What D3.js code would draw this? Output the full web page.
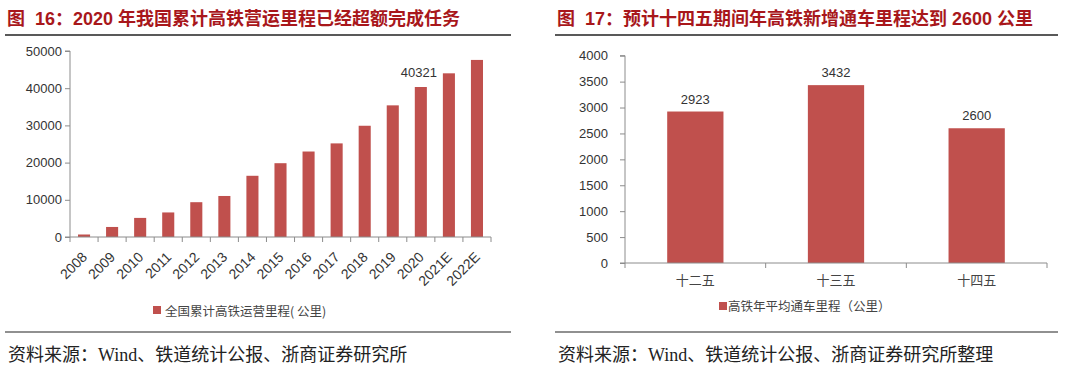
<!DOCTYPE html>
<html><head><meta charset="utf-8">
<script src="https://cdn.jsdelivr.net/npm/d3@7"></script>
<style>
body{margin:0;background:#fff;}
svg{display:block;}
</style></head><body>
<svg id="c" width="1080" height="367"></svg>
<script>
const years = ["2008","2009","2010","2011","2012","2013","2014","2015","2016","2017","2018","2019","2020","2021E","2022E"];
const mileage = [672,2699,5133,6601,9356,11028,16456,19838,22980,25164,29904,35388,40321,44000,47600];
const leftTicks = [0,10000,20000,30000,40000,50000];
const labeledYear = "2020";

const plans = ["十二五","十三五","十四五"];
const annualNew = [2923,3432,2600];
const rightTicks = [0,500,1000,1500,2000,2500,3000,3500,4000];

const titleLeft = ["图", "16：2020 年我国累计高铁营运里程已经超额完成任务"];
const titleRight = ["图", "17：预计十四五期间年高铁新增通车里程达到 2600 公里"];
const legendLeft = "全国累计高铁运营里程( 公里)";
const legendRight = "高铁年平均通车里程（公里）";
const sourceLeft = "资料来源：Wind、铁道统计公报、浙商证券研究所";
const sourceRight = "资料来源：Wind、铁道统计公报、浙商证券研究所整理";

const RED = "#c0504d", TITLE = "#a8171b", AX = "#8c8c8c", TXT = "#333";
const SANS = "Arial, 'Liberation Sans', 'Noto Sans CJK SC', sans-serif";
const CJK = "'Noto Sans CJK SC', sans-serif";
const SERIF = "'Liberation Serif', 'Noto Sans CJK SC', serif";

const svg = d3.select("#c");

function header(x0, x1, title){
  const t = svg.append("text").attr("x", x0+2).attr("y", 25).attr("fill", TITLE)
    .attr("font-family", SANS).attr("font-weight", "bold").attr("font-size", 18);
  t.append("tspan").text(title[0]);
  t.append("tspan").attr("dx", 10).text(title[1]);
  svg.append("line").attr("x1", x0).attr("x2", x1).attr("y1", 35).attr("y2", 35)
    .attr("stroke", "#222").attr("stroke-width", 1.5);
}
function footer(x0, x1, src){
  svg.append("line").attr("x1", x0).attr("x2", x1).attr("y1", 332).attr("y2", 332)
    .attr("stroke", "#222").attr("stroke-width", 1.2);
  svg.append("text").attr("x", x0+3).attr("y", 361).attr("fill", "#222")
    .attr("font-family", SERIF).attr("font-size", 18).text(src);
}

// ---------- Left chart ----------
header(5, 511, titleLeft);
footer(5, 511, sourceLeft);
{
  const x = d3.scaleBand().domain(years).range([70, 491]).paddingInner(0.57).paddingOuter(0.285);
  const y = d3.scaleLinear().domain([0, 50000]).range([237, 51]);
  const g = svg.append("g");
  g.selectAll("rect").data(years).join("rect")
    .attr("x", d => x(d)).attr("width", x.bandwidth())
    .attr("y", (d,i) => y(mileage[i])).attr("height", (d,i) => y(0) - y(mileage[i]))
    .attr("fill", RED);
  const ya = g.append("g").attr("transform", "translate(70,0)")
    .call(d3.axisLeft(y).tickValues(leftTicks).tickSize(5).tickPadding(3).tickFormat(d3.format("d")));
  ya.select(".domain").attr("stroke", AX).attr("d", "M-5,237H0V51H-5");
  ya.selectAll(".tick line").attr("stroke", AX);
  ya.selectAll("text").attr("fill", TXT).attr("font-family", SANS).attr("font-size", 13);
  const bounds = d3.range(years.length + 1).map(i => 70 + i * (421 / years.length));
  g.append("line").attr("x1", 70).attr("x2", 491).attr("y1", 237).attr("y2", 237).attr("stroke", AX);
  g.selectAll(".xt").data(bounds).join("line").attr("class", "xt")
    .attr("x1", d => d).attr("x2", d => d).attr("y1", 237).attr("y2", 242).attr("stroke", AX);
  g.selectAll(".xl").data(years).join("text").attr("class", "xl")
    .attr("transform", d => `translate(${x(d) + x.bandwidth()/2 + 4},${258}) rotate(-45)`)
    .attr("text-anchor", "end")
    .attr("fill", TXT).attr("font-family", SANS).attr("font-size", 14).text(d => d);
  const li = years.indexOf(labeledYear);
  g.append("text").attr("x", x(labeledYear) + x.bandwidth()/2 - 2).attr("y", y(mileage[li]) - 10)
    .attr("text-anchor", "middle").attr("fill", TXT).attr("font-family", SANS).attr("font-size", 13)
    .text(mileage[li]);
  g.append("rect").attr("x", 153).attr("y", 306).attr("width", 8).attr("height", 8).attr("fill", RED);
  g.append("text").attr("x", 165).attr("y", 315.5).attr("fill", "#444")
    .attr("font-family", CJK).attr("font-size", 12.5).text(legendLeft);
}

// ---------- Right chart ----------
header(555, 1058, titleRight);
footer(555, 1058, sourceRight);
{
  const x = d3.scaleBand().domain(plans).range([625, 1047]).paddingInner(0.6).paddingOuter(0.3);
  const y = d3.scaleLinear().domain([0, 4000]).range([263, 55.7]);
  const g = svg.append("g");
  g.selectAll("rect").data(plans).join("rect")
    .attr("x", d => x(d)).attr("width", x.bandwidth())
    .attr("y", (d,i) => y(annualNew[i])).attr("height", (d,i) => y(0) - y(annualNew[i]))
    .attr("fill", RED);
  g.selectAll(".vl").data(plans).join("text").attr("class", "vl")
    .attr("x", d => x(d) + x.bandwidth()/2).attr("y", (d,i) => y(annualNew[i]) - 8)
    .attr("text-anchor", "middle").attr("fill", TXT).attr("font-family", SANS).attr("font-size", 13)
    .text((d,i) => annualNew[i]);
  const ya = g.append("g").attr("transform", "translate(625,0)")
    .call(d3.axisLeft(y).tickValues(rightTicks).tickSize(5).tickPadding(12).tickFormat(d3.format("d")));
  ya.select(".domain").attr("stroke", AX).attr("d", "M-5,263H0V55.7H-5");
  ya.selectAll(".tick line").attr("stroke", AX);
  ya.selectAll("text").attr("fill", TXT).attr("font-family", SANS).attr("font-size", 13);
  const bounds = d3.range(plans.length + 1).map(i => 625 + i * (422 / plans.length));
  g.append("line").attr("x1", 625).attr("x2", 1047).attr("y1", 263).attr("y2", 263).attr("stroke", AX);
  g.selectAll(".xt").data(bounds).join("line").attr("class", "xt")
    .attr("x1", d => d).attr("x2", d => d).attr("y1", 263).attr("y2", 268).attr("stroke", AX);
  g.selectAll(".xl").data(plans).join("text").attr("class", "xl")
    .attr("x", d => x(d) + x.bandwidth()/2).attr("y", 285)
    .attr("text-anchor", "middle").attr("fill", "#444").attr("font-family", SERIF).attr("font-size", 13)
    .text(d => d);
  g.append("rect").attr("x", 719).attr("y", 302).attr("width", 8).attr("height", 8).attr("fill", RED);
  g.append("text").attr("x", 728).attr("y", 311).attr("fill", "#444")
    .attr("font-family", CJK).attr("font-size", 12.5).text(legendRight);
}
</script>
</body></html>
